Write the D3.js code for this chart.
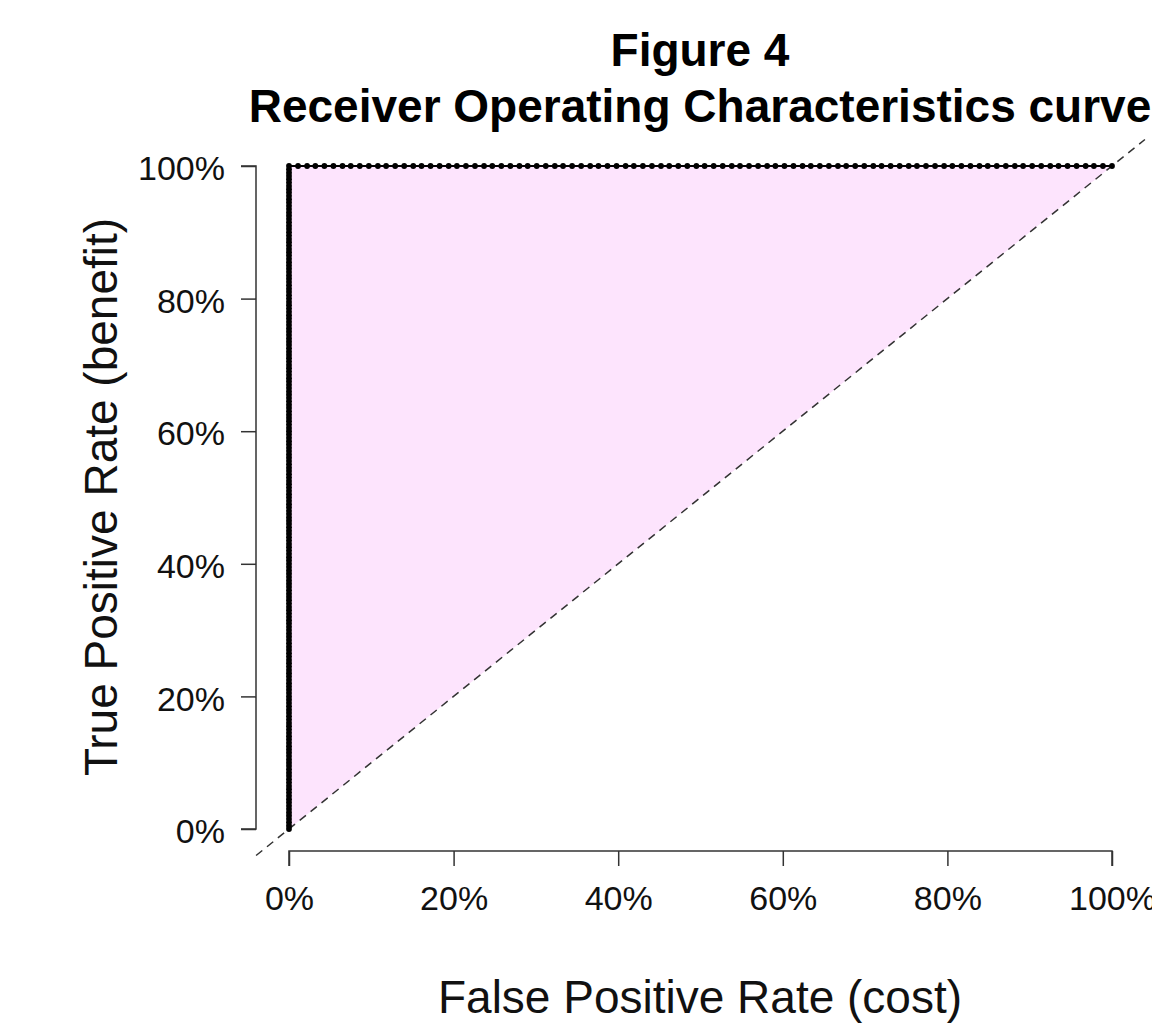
<!DOCTYPE html>
<html>
<head>
<meta charset="utf-8">
<script src="https://cdn.jsdelivr.net/npm/d3@7"></script>
<style>
  html, body { margin: 0; padding: 0; background: #fff; }
  svg { display: block; font-family: "Liberation Sans", Arial, Helvetica, sans-serif; }
</style>
</head>
<body>
<svg id="chart" width="1152" height="1024"></svg>
<script>
// ROC curve: true positive rates reached while the false positive rate is still 0
const tprAtZeroFpr = [
  0, 0.005, 0.01, 0.015, 0.02, 0.025, 0.03, 0.035, 0.04, 0.045,
  0.05, 0.055, 0.06, 0.065, 0.07, 0.075, 0.08, 0.085, 0.09, 0.095,
  0.1, 0.105, 0.11, 0.115, 0.12, 0.125, 0.13, 0.135, 0.14, 0.145,
  0.15, 0.155, 0.16, 0.165, 0.17, 0.175, 0.18, 0.185, 0.19, 0.195,
  0.2, 0.205, 0.21, 0.215, 0.22, 0.225, 0.23, 0.235, 0.24, 0.245,
  0.25, 0.255, 0.26, 0.265, 0.27, 0.275, 0.28, 0.285, 0.29, 0.295,
  0.3, 0.305, 0.31, 0.315, 0.32, 0.325, 0.33, 0.335, 0.34, 0.345,
  0.35, 0.355, 0.36, 0.365, 0.37, 0.375, 0.38, 0.385, 0.39, 0.395,
  0.4, 0.405, 0.41, 0.415, 0.42, 0.425, 0.43, 0.435, 0.44, 0.445,
  0.45, 0.455, 0.46, 0.465, 0.47, 0.475, 0.48, 0.485, 0.49, 0.495,
  0.5, 0.505, 0.51, 0.515, 0.52, 0.525, 0.53, 0.535, 0.54, 0.545,
  0.55, 0.555, 0.56, 0.565, 0.57, 0.575, 0.58, 0.585, 0.59, 0.595,
  0.6, 0.605, 0.61, 0.615, 0.62, 0.625, 0.63, 0.635, 0.64, 0.645,
  0.65, 0.655, 0.66, 0.665, 0.67, 0.675, 0.68, 0.685, 0.69, 0.695,
  0.7, 0.705, 0.71, 0.715, 0.72, 0.725, 0.73, 0.735, 0.74, 0.745,
  0.75, 0.755, 0.76, 0.765, 0.77, 0.775, 0.78, 0.785, 0.79, 0.795,
  0.8, 0.805, 0.81, 0.815, 0.82, 0.825, 0.83, 0.835, 0.84, 0.845,
  0.85, 0.855, 0.86, 0.865, 0.87, 0.875, 0.88, 0.885, 0.89, 0.895,
  0.9, 0.905, 0.91, 0.915, 0.92, 0.925, 0.93, 0.935, 0.94, 0.945,
  0.95, 0.955, 0.96, 0.965, 0.97, 0.975, 0.98, 0.985, 0.99, 0.995,
  1
];

// False positive rates reached once the true positive rate is 100%
const fprAtFullTpr = [
  0, 0.011, 0.022, 0.032, 0.043, 0.054, 0.065, 0.075, 0.086, 0.097,
  0.108, 0.118, 0.129, 0.140, 0.151, 0.161, 0.172, 0.183, 0.194, 0.204,
  0.215, 0.226, 0.237, 0.247, 0.258, 0.269, 0.280, 0.290, 0.301, 0.312,
  0.323, 0.333, 0.344, 0.355, 0.366, 0.376, 0.387, 0.398, 0.409, 0.419,
  0.430, 0.441, 0.452, 0.462, 0.473, 0.484, 0.495, 0.505, 0.516, 0.527,
  0.538, 0.548, 0.559, 0.570, 0.581, 0.591, 0.602, 0.613, 0.624, 0.634,
  0.645, 0.656, 0.667, 0.677, 0.688, 0.699, 0.710, 0.720, 0.731, 0.742,
  0.753, 0.763, 0.774, 0.785, 0.796, 0.806, 0.817, 0.828, 0.839, 0.849,
  0.860, 0.871, 0.882, 0.892, 0.903, 0.914, 0.925, 0.935, 0.946, 0.957,
  0.968, 0.978, 0.989, 1
];

const xTicks = [0, 0.2, 0.4, 0.6, 0.8, 1];
const yTicks = [0, 0.2, 0.4, 0.6, 0.8, 1];
const titleLines = ["Figure 4", "Receiver Operating Characteristics curve"];
const xTitle = "False Positive Rate (cost)";
const yTitle = "True Positive Rate (benefit)";

// Plot region spans the data range plus 4% on each side
const x = d3.scaleLinear().domain([0, 1]).range([289, 1112]);
const y = d3.scaleLinear().domain([0, 1]).range([829, 166]);
const xRegion = [-0.04, 1.04];
const yRegion = [-0.04, 1.04];

const svg = d3.select("#chart");
const pct = d3.format(".0%");

const curve = tprAtZeroFpr.map(t => [0, t])
  .concat(fprAtFullTpr.slice(1).map(f => [f, 1]));

// Shaded area between the curve and the chance diagonal
const area = curve.concat([[0, 0]]);
svg.append("path")
  .attr("d", d3.line().x(d => x(d[0])).y(d => y(d[1]))(area) + "Z")
  .attr("fill", "#fde4fd")
  .attr("stroke", "none");

// Chance diagonal, clipped to the plot region
svg.append("line")
  .attr("x1", x(xRegion[0])).attr("y1", y(yRegion[0]))
  .attr("x2", x(xRegion[1])).attr("y2", y(yRegion[1]))
  .attr("stroke", "#333")
  .attr("stroke-width", 1.5)
  .attr("stroke-dasharray", "8,6");

// ROC line and its points
svg.append("path")
  .attr("d", d3.line().x(d => x(d[0])).y(d => y(d[1]))(curve))
  .attr("fill", "none")
  .attr("stroke", "#000")
  .attr("stroke-width", 2);

svg.append("g").selectAll("circle")
  .data(curve)
  .join("circle")
  .attr("cx", d => x(d[0]))
  .attr("cy", d => y(d[1]))
  .attr("r", 2.9)
  .attr("fill", "#000");

// Axes
const axisColor = "#333";
const xAxisY = 851;
const yAxisX = 256;

const xAxis = svg.append("g")
  .attr("transform", `translate(0,${xAxisY})`)
  .call(d3.axisBottom(x).tickValues(xTicks).tickFormat(pct).tickSize(15).tickPadding(20));
const yAxis = svg.append("g")
  .attr("transform", `translate(${yAxisX},0)`)
  .call(d3.axisLeft(y).tickValues(yTicks).tickFormat(pct).tickSize(15).tickPadding(16));

[xAxis, yAxis].forEach(g => {
  g.select(".domain").attr("stroke", axisColor).attr("stroke-width", 1.5);
  g.selectAll(".tick line").attr("stroke", axisColor).attr("stroke-width", 1.5);
  g.selectAll(".tick text")
    .attr("fill", "#111")
    .style("font-family", "'Liberation Sans', Arial, sans-serif")
    .style("font-size", "34px");
});
// Remove the outer tick ends so the axis lines stop at the extreme ticks
xAxis.select(".domain").attr("d", `M${x(0)},15V0H${x(1)}V15`);
yAxis.select(".domain").attr("d", `M-15,${y(1)}H0V${y(0)}H-15`);
yAxis.selectAll(".tick text").attr("dy", "0.4em");

// Titles
svg.append("g").selectAll("text")
  .data(titleLines)
  .join("text")
  .attr("x", 700)
  .attr("y", (d, i) => 66 + i * 56)
  .attr("text-anchor", "middle")
  .attr("font-weight", "bold")
  .attr("font-size", 46)
  .attr("fill", "#000")
  .text(d => d);

svg.append("text")
  .attr("x", 700)
  .attr("y", 1013)
  .attr("text-anchor", "middle")
  .attr("font-size", 46)
  .attr("fill", "#111")
  .text(xTitle);

svg.append("text")
  .attr("transform", "translate(117,497) rotate(-90)")
  .attr("text-anchor", "middle")
  .attr("font-size", 46)
  .attr("fill", "#111")
  .text(yTitle);
</script>
</body>
</html>
